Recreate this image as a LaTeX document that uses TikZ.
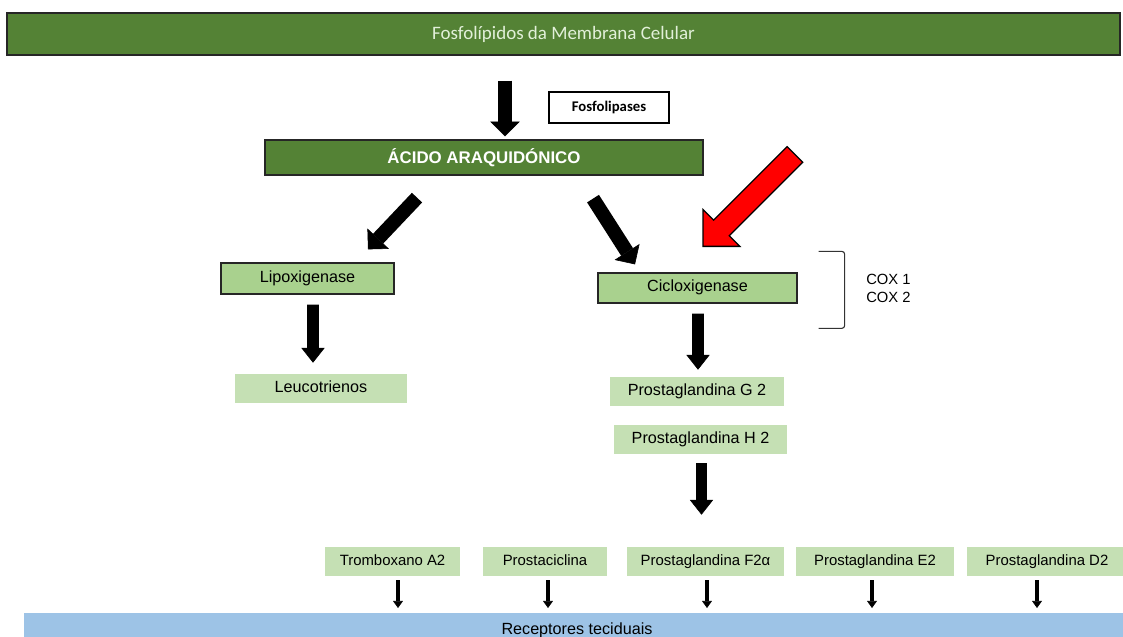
\documentclass[tikz,border=0pt]{standalone}
\usepackage{fontspec}
\setmainfont{Liberation Sans}
\newfontfamily\calibri{Carlito}
\usetikzlibrary{arrows.meta}
\definecolor{verdeesc}{HTML}{548235}
\definecolor{verdemed}{HTML}{A9D18E}
\definecolor{verdecla}{HTML}{C5E0B4}
\definecolor{azulcla}{HTML}{9DC3E6}
\definecolor{textoclaro}{HTML}{E2F0D9}
\newcommand{\px}{0.025cm}

\begin{document}
\begin{tikzpicture}[x=0.025cm, y=-0.025cm,
  barra/.style={draw=black!85, line width=0.9pt, fill=verdeesc, inner sep=0pt},
  enzima/.style={draw=black!85, line width=0.9pt, fill=verdemed, inner sep=0pt, text height=0.72em, text depth=0.21em, font=\fontsize{11.5}{13}\selectfont},
  produto/.style={fill=verdecla, inner sep=0pt, text height=0.72em, text depth=0.21em, font=\fontsize{11.5}{13}\selectfont},
  final/.style={fill=verdecla, inner sep=0pt, minimum height=29*\px, text height=0.72em, text depth=0.21em, font=\fontsize{10.6}{12}\selectfont},
  seta/.style={line width=10pt, -{Triangle[length=10.5pt,width=21pt,line width=0.4pt]}},
  seta2/.style={line width=8.2pt, -{Triangle[length=10.5pt,width=16.5pt,line width=0.4pt]}},
  setinha/.style={line width=2.8pt, -{Triangle[length=5pt,width=7pt,line width=0.4pt]}},
  setavermelha/.style={fill=red, draw=black, line width=0.9pt, line join=miter},
  chave/.style={draw=black!80, line width=0.8pt, rounded corners=2pt},
]
 \useasboundingbox (0,0) rectangle (1123,637);
 \clip (0,0) rectangle (1123,637);

 % membrana e acido
 \node[barra, minimum width=1113*\px, minimum height=42*\px, text=textoclaro,
   font=\calibri\fontsize{13.5}{16}\selectfont] (membrana) at (563.5,34) {Fosfolípidos da Membrana Celular};
 \node[draw=black, line width=0.9pt, fill=white, inner sep=0pt, minimum width=120*\px, minimum height=31*\px,
   font=\calibri\bfseries\fontsize{10.5}{12}\selectfont] (fosfolipases) at (609,107.5) {Fosfolipases};
 \node[barra, minimum width=438*\px, minimum height=35*\px, text=white,
   font=\bfseries\fontsize{12}{14}\selectfont] (acido) at (484,157.5) {ÁCIDO ARAQUIDÓNICO};

 % enzimas
 \node[enzima, minimum width=173*\px, minimum height=31*\px] (lipox) at (307.5,278.5) {Lipoxigenase};
 \node[produto, minimum width=172*\px, minimum height=29*\px] (leuco) at (321,388.5) {Leucotrienos};
 \node[enzima, minimum width=199*\px, minimum height=30*\px] (ciclox) at (697.5,288) {Cicloxigenase};
 \node[produto, minimum width=174*\px, minimum height=29*\px] (pgg) at (697,391.5) {Prostaglandina G 2};
 \node[produto, minimum width=173*\px, minimum height=29*\px] (pgh) at (700.5,439.5) {Prostaglandina H 2};

 % COX 1 e COX 2
 \draw[chave] ([shift={(21,-21)}]ciclox.north east) -- ++(26,0) -- ++(0,77) -- ++(-26,0);
 \node[anchor=north west, align=left, inner sep=0pt, font=\fontsize{10.5}{12.8}\selectfont] (cox) at (866,274) {COX 1\\COX 2};

 % produtos finais
 \node[final, minimum width=135*\px] (tromb) at (392.5,561.5) {Tromboxano A2};
 \node[final, minimum width=124*\px] (prostac) at (545,561.5) {Prostaciclina};
 \node[final, minimum width=157*\px] (pgf) at (705.5,561.5) {Prostaglandina F2α};
 \node[final, minimum width=158*\px] (pge) at (875,561.5) {Prostaglandina E2};
 \node[final, minimum width=160*\px] (pgd) at (1047,561.5) {Prostaglandina D2};
 \node[fill=azulcla, anchor=north, minimum width=1106*\px, inner ysep=7pt,
   font=\fontsize{11.5}{13}\selectfont] (receptores) at (577,613) {Receptores teciduais};

 % setas
 \draw[seta] ([shift={(-58.5,25)}]membrana.south) -- ([shift={(21,-3)}]acido.north);
 \draw[seta] ([shift={(-67,22)}]acido.south) -- ([shift={(60.5,-13)}]lipox.north);
 \draw[seta] ([shift={(109,23)}]acido.south) -- ([shift={(-62.5,-8)}]ciclox.north);
 \draw[seta2] ([shift={(5.5,10)}]lipox.south) -- ([shift={(-8,-11)}]leuco.north);
 \draw[seta2] ([shift={(0.5,10)}]ciclox.south) -- ([shift={(1,-7)}]pgg.north);
 \draw[seta2] ([shift={(1,9)}]pgh.south) -- ([shift={(-4,-32)}]pgf.north);
 \foreach \n/\dx in {tromb/5.5, prostac/3, pgf/1.5, pge/-3, pgd/-10}
   \draw[setinha] ([shift={(\dx,4)}]\n.south) -- ([shift={(\dx,-5)}]\n.south |- receptores.north);

 % seta vermelha
 \coordinate (ponta) at ([shift={(5.5,-26)}]ciclox.north);
 \begin{scope}[shift={(ponta)}, rotate=45]
  \draw[setavermelha] (0,0) -- (26,26) -- (26,11) -- (130,11) -- (130,-11) -- (26,-11) -- (26,-26) -- cycle;
 \end{scope}

\end{tikzpicture}
\end{document}
